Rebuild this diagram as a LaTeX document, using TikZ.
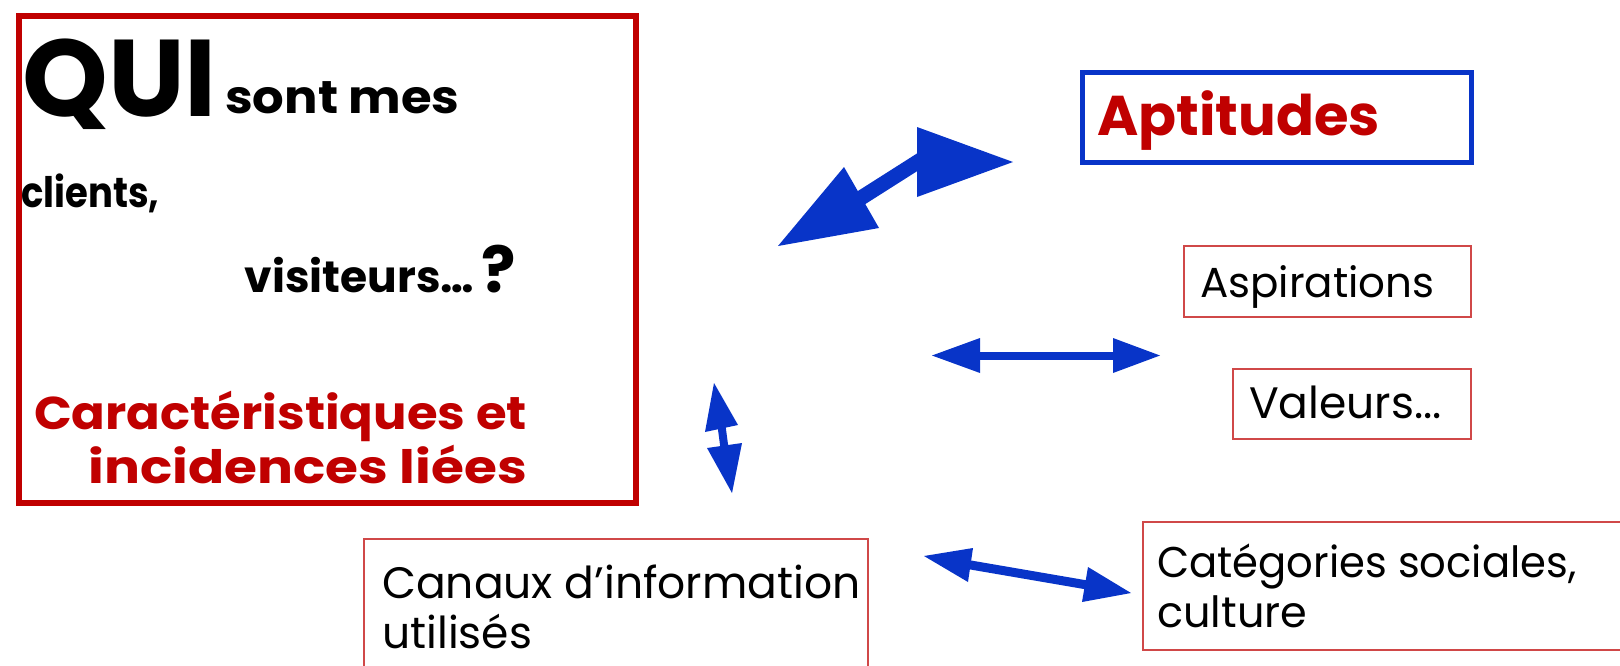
\documentclass[tikz,border=0pt]{standalone}
\usepackage{fontspec}
\setmainfont{Poppins}
\usetikzlibrary{calc}
\definecolor{dred}{RGB}{192,0,0}
\definecolor{lred}{RGB}{208,72,72}
\definecolor{myblue}{RGB}{8,52,200}
\newcommand{\fsz}[1]{\fontsize{#1}{#1}\selectfont}
\newcommand{\hsc}[2]{\scalebox{#1}[1]{#2}}
\tikzset{
  bigbox/.style={draw=dred, line width=6pt, inner sep=0pt, anchor=north west},
  bluebox/.style={draw=myblue, line width=5pt, inner sep=0pt, anchor=north west},
  thinbox/.style={draw=lred, line width=1.8pt, inner sep=0pt, anchor=north west},
  lbl/.style={inner sep=0pt, anchor=base west},
  lblr/.style={inner sep=0pt, anchor=base east},
  headfill/.style={fill=myblue, draw=none},
  shaft/.style={draw=myblue, line cap=butt},
}
\begin{document}
\begin{tikzpicture}[x=1pt,y=-1pt]
\clip (0,0) rectangle (1620,665);
\useasboundingbox (0,0) rectangle (1620,665);

% boxes
\node[bigbox, minimum width=617pt, minimum height=487pt] (main) at (16,13) {};
\node[bluebox, minimum width=389pt, minimum height=90pt] (apt) at (1079.5,69.5) {};
\node[thinbox, minimum width=287pt, minimum height=71pt] (asp) at (1183,245) {};
\node[thinbox, minimum width=238pt, minimum height=70pt] (val) at (1232,368) {};
\node[thinbox, minimum width=498pt, minimum height=128pt] (cat) at (1142,521) {};
\node[thinbox, minimum width=504pt, minimum height=162pt] (can) at (363,538) {};

% texts in main box
\node[lbl, font=\fsz{109}\bfseries] (qui) at (22,116) {QUI};
\node[lbl, font=\fsz{46}\bfseries] (sont) at (225,113) {\hsc{1.08}{sont mes}};
\node[lbl, font=\fsz{42}\bfseries] (cli) at (21,207) {\hsc{0.88}{clients,}};
\node[lblr, font=\fsz{44}\bfseries] (vis) at (516,292) {visiteurs…\,{\fsz{64}?}};
\node[lblr, font=\fsz{46}\bfseries, text=dred] (car1) at (527,429) {\hsc{1.08}{Caractéristiques et}};
\node[lblr, font=\fsz{46}\bfseries, text=dred] (car2) at (527,483) {\hsc{1.16}{incidences liées}};

% texts in right boxes
\node[lbl, font=\fsz{56}\bfseries, text=dred] (aptt) at (1097,135) {Aptitudes};
\node[lbl, font=\fsz{42}] (aspt) at (1200,297) {Aspirations};
\node[lbl, font=\fsz{44}] (valt) at (1249,418) {Valeurs...};
\node[lbl, font=\fsz{43}] (catt1) at (1157,577) {\hsc{0.97}{Catégories sociales,}};
\node[lbl, font=\fsz{43}] (catt2) at (1157,627) {culture};
\node[lbl, font=\fsz{44}] (cant1) at (382,598) {Canaux d’information};
\node[lbl, font=\fsz{44}] (cant2) at (382,648) {utilisés};

% ---- big diagonal arrow
\coordinate (bA) at (778,246);
\coordinate (bB1) at (844,167);
\coordinate (bB2) at (879,228);
\coordinate (bS1) at (853,203);
\coordinate (bS2) at (927,156);
\coordinate (bC1) at (917,127);
\coordinate (bC2) at (917,197);
\coordinate (bT) at (1013,162);
\draw[shaft, line width=15pt] (bS1) -- (bS2);
\fill[headfill] (bA) -- (bB1) -- (bB2) -- cycle;
\fill[headfill] (bT) -- (bC1) -- (bC2) -- cycle;

% ---- horizontal arrow
\coordinate (hL) at (932,355.5);
\coordinate (hL1) at (980,338);
\coordinate (hL2) at (980,373);
\coordinate (hR) at (1160,355.5);
\coordinate (hR1) at (1113,338);
\coordinate (hR2) at (1113,373);
\coordinate (hS1) at (975,355.5);
\coordinate (hS2) at (1118,355.5);
\draw[shaft, line width=8pt] (hS1) -- (hS2);
\fill[headfill] (hL) -- (hL1) -- (hL2) -- cycle;
\fill[headfill] (hR) -- (hR1) -- (hR2) -- cycle;

% ---- vertical small arrow
\coordinate (vT) at (714,383);
\coordinate (vT1) at (705,432);
\coordinate (vT2) at (738,425);
\coordinate (vB) at (732,493);
\coordinate (vB1) at (707,448);
\coordinate (vB2) at (742,443);
\coordinate (vS1) at (721,422);
\coordinate (vS2) at (725,452);
\draw[shaft, line width=8pt] (vS1) -- (vS2);
\fill[headfill] (vT) -- (vT1) -- (vT2) -- cycle;
\fill[headfill] (vB) -- (vB1) -- (vB2) -- cycle;

% ---- lower arrow
\coordinate (lL) at (924,556);
\coordinate (lL1) at (973,548);
\coordinate (lL2) at (968,582);
\coordinate (lR) at (1131,593);
\coordinate (lR1) at (1088,567);
\coordinate (lR2) at (1082,602);
\coordinate (lS1) at (962,563.5);
\coordinate (lS2) at (1093,586);
\draw[shaft, line width=9pt] (lS1) -- (lS2);
\fill[headfill] (lL) -- (lL1) -- (lL2) -- cycle;
\fill[headfill] (lR) -- (lR1) -- (lR2) -- cycle;
\end{tikzpicture}
\end{document}
